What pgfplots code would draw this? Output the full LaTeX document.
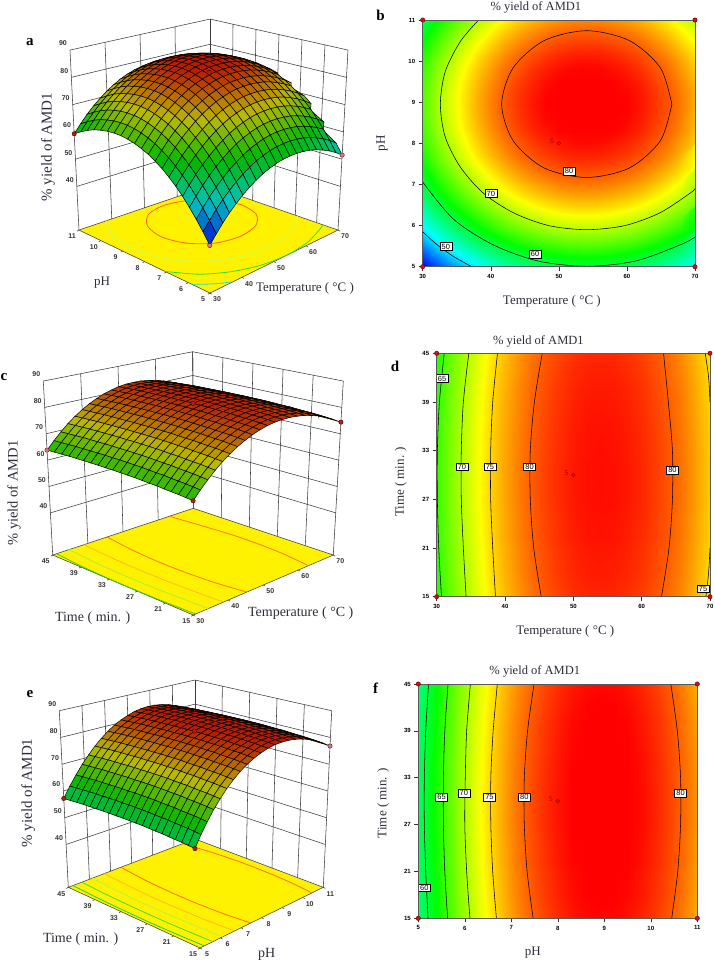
\documentclass[border=0pt]{standalone}
\usepackage{fontspec}
\setmainfont{Liberation Serif}
\newfontfamily\tickfont{Liberation Sans}
\usepackage{pgfplots}
\usepackage{pgfplotstable}
\pgfplotsset{compat=1.18}

% one px of the reference = 1pt; 21x21 grids, rows from the far edge to the near one,
% and inside a row from the high end of the x factor to the low end
\pgfplotstableread[row sep=\\]{z\\
70.0\\72.0\\73.7\\75.1\\76.3\\77.2\\77.8\\78.2\\78.3\\78.2\\77.8\\77.1\\76.2\\75.0\\73.5\\71.8\\69.8\\67.6\\65.1\\62.3\\59.3\\
71.8\\73.8\\75.5\\76.9\\78.1\\79.0\\79.6\\80.0\\80.1\\80.0\\79.6\\78.9\\78.0\\76.8\\75.3\\73.6\\71.6\\69.4\\66.9\\64.1\\61.1\\
73.4\\75.4\\77.1\\78.5\\79.7\\80.6\\81.2\\81.6\\81.7\\81.6\\81.2\\80.5\\79.6\\78.4\\76.9\\75.2\\73.2\\71.0\\68.5\\65.7\\62.7\\
74.7\\76.7\\78.4\\79.8\\81.0\\81.9\\82.5\\82.9\\83.0\\82.9\\82.5\\81.8\\80.9\\79.7\\78.2\\76.5\\74.5\\72.3\\69.8\\67.0\\64.0\\
75.6\\77.6\\79.3\\80.7\\81.9\\82.8\\83.4\\83.8\\83.9\\83.8\\83.4\\82.7\\81.8\\80.6\\79.1\\77.4\\75.4\\73.2\\70.7\\67.9\\64.9\\
76.3\\78.3\\80.0\\81.4\\82.6\\83.5\\84.1\\84.5\\84.6\\84.5\\84.1\\83.4\\82.5\\81.3\\79.8\\78.1\\76.1\\73.9\\71.4\\68.6\\65.6\\
76.7\\78.7\\80.4\\81.8\\83.0\\83.9\\84.5\\84.9\\85.0\\84.9\\84.5\\83.8\\82.9\\81.7\\80.2\\78.5\\76.5\\74.3\\71.8\\69.0\\66.0\\
76.8\\78.8\\80.5\\81.9\\83.1\\84.0\\84.6\\85.0\\85.1\\85.0\\84.6\\83.9\\83.0\\81.8\\80.3\\78.6\\76.6\\74.4\\71.9\\69.1\\66.1\\
76.6\\78.6\\80.3\\81.7\\82.9\\83.8\\84.4\\84.8\\84.9\\84.8\\84.4\\83.7\\82.8\\81.6\\80.1\\78.4\\76.4\\74.2\\71.7\\68.9\\65.9\\
76.1\\78.1\\79.8\\81.2\\82.4\\83.3\\83.9\\84.3\\84.4\\84.3\\83.9\\83.2\\82.3\\81.1\\79.6\\77.9\\75.9\\73.7\\71.2\\68.4\\65.4\\
75.3\\77.3\\79.0\\80.4\\81.6\\82.5\\83.1\\83.5\\83.6\\83.5\\83.1\\82.4\\81.5\\80.3\\78.8\\77.1\\75.1\\72.9\\70.4\\67.6\\64.6\\
74.3\\76.3\\78.0\\79.4\\80.6\\81.5\\82.1\\82.5\\82.6\\82.5\\82.1\\81.4\\80.5\\79.3\\77.8\\76.1\\74.1\\71.9\\69.4\\66.6\\63.6\\
72.9\\74.9\\76.6\\78.0\\79.2\\80.1\\80.7\\81.1\\81.2\\81.1\\80.7\\80.0\\79.1\\77.9\\76.4\\74.7\\72.7\\70.5\\68.0\\65.2\\62.2\\
71.3\\73.3\\75.0\\76.4\\77.6\\78.5\\79.1\\79.5\\79.6\\79.5\\79.1\\78.4\\77.5\\76.3\\74.8\\73.1\\71.1\\68.9\\66.4\\63.6\\60.6\\
69.3\\71.3\\73.0\\74.4\\75.6\\76.5\\77.1\\77.5\\77.6\\77.5\\77.1\\76.4\\75.5\\74.3\\72.8\\71.1\\69.1\\66.9\\64.4\\61.6\\58.6\\
67.1\\69.1\\70.8\\72.2\\73.4\\74.3\\74.9\\75.3\\75.4\\75.3\\74.9\\74.2\\73.3\\72.1\\70.6\\68.9\\66.9\\64.7\\62.2\\59.4\\56.4\\
64.6\\66.6\\68.3\\69.7\\70.9\\71.8\\72.4\\72.8\\72.9\\72.8\\72.4\\71.7\\70.8\\69.6\\68.1\\66.4\\64.4\\62.2\\59.7\\56.9\\53.9\\
61.7\\63.7\\65.4\\66.8\\68.0\\68.9\\69.5\\69.9\\70.0\\69.9\\69.5\\68.8\\67.9\\66.7\\65.2\\63.5\\61.5\\59.3\\56.8\\54.0\\51.0\\
58.6\\60.6\\62.3\\63.7\\64.9\\65.8\\66.4\\66.8\\66.9\\66.8\\66.4\\65.7\\64.8\\63.6\\62.1\\60.4\\58.4\\56.2\\53.7\\50.9\\47.9\\
55.2\\57.2\\58.9\\60.3\\61.5\\62.4\\63.0\\63.4\\63.5\\63.4\\63.0\\62.3\\61.4\\60.2\\58.7\\57.0\\55.0\\52.8\\50.3\\47.5\\44.5\\
51.5\\53.5\\55.2\\56.6\\57.8\\58.7\\59.3\\59.7\\59.8\\59.7\\59.3\\58.6\\57.7\\56.5\\55.0\\53.3\\51.3\\49.1\\46.6\\43.8\\40.8\\
}\tabTP

\pgfplotstableread[row sep=\\]{z\\
74.3\\76.2\\77.9\\79.3\\80.4\\81.3\\81.9\\82.3\\82.4\\82.3\\81.9\\81.2\\80.3\\79.1\\77.7\\76.0\\74.1\\71.9\\69.4\\66.7\\63.8\\
74.5\\76.4\\78.1\\79.5\\80.6\\81.5\\82.1\\82.5\\82.6\\82.5\\82.1\\81.4\\80.5\\79.3\\77.9\\76.2\\74.3\\72.1\\69.6\\66.9\\64.0\\
74.7\\76.6\\78.3\\79.7\\80.8\\81.7\\82.3\\82.7\\82.8\\82.7\\82.3\\81.6\\80.7\\79.5\\78.1\\76.4\\74.5\\72.3\\69.8\\67.1\\64.2\\
74.9\\76.8\\78.5\\79.9\\81.0\\81.9\\82.5\\82.9\\83.0\\82.9\\82.5\\81.8\\80.9\\79.7\\78.3\\76.6\\74.7\\72.5\\70.0\\67.3\\64.4\\
75.0\\76.9\\78.6\\80.0\\81.1\\82.0\\82.6\\83.0\\83.1\\83.0\\82.6\\81.9\\81.0\\79.8\\78.4\\76.7\\74.8\\72.6\\70.1\\67.4\\64.5\\
75.1\\77.0\\78.7\\80.1\\81.2\\82.1\\82.7\\83.1\\83.2\\83.1\\82.7\\82.0\\81.1\\79.9\\78.5\\76.8\\74.9\\72.7\\70.2\\67.5\\64.6\\
75.2\\77.1\\78.8\\80.2\\81.3\\82.2\\82.8\\83.2\\83.3\\83.2\\82.8\\82.1\\81.2\\80.0\\78.6\\76.9\\75.0\\72.8\\70.3\\67.6\\64.7\\
75.3\\77.2\\78.9\\80.3\\81.4\\82.3\\82.9\\83.3\\83.4\\83.3\\82.9\\82.2\\81.3\\80.1\\78.7\\77.0\\75.1\\72.9\\70.4\\67.7\\64.8\\
75.3\\77.2\\78.9\\80.3\\81.4\\82.3\\82.9\\83.3\\83.4\\83.3\\82.9\\82.2\\81.3\\80.1\\78.7\\77.0\\75.1\\72.9\\70.4\\67.7\\64.8\\
75.4\\77.3\\79.0\\80.4\\81.5\\82.4\\83.0\\83.4\\83.5\\83.4\\83.0\\82.3\\81.4\\80.2\\78.8\\77.1\\75.2\\73.0\\70.5\\67.8\\64.9\\
75.4\\77.3\\79.0\\80.4\\81.5\\82.4\\83.0\\83.4\\83.5\\83.4\\83.0\\82.3\\81.4\\80.2\\78.8\\77.1\\75.2\\73.0\\70.5\\67.8\\64.9\\
75.4\\77.3\\79.0\\80.4\\81.5\\82.4\\83.0\\83.4\\83.5\\83.4\\83.0\\82.3\\81.4\\80.2\\78.8\\77.1\\75.2\\73.0\\70.5\\67.8\\64.9\\
75.4\\77.3\\79.0\\80.4\\81.5\\82.4\\83.0\\83.4\\83.5\\83.4\\83.0\\82.3\\81.4\\80.2\\78.8\\77.1\\75.2\\73.0\\70.5\\67.8\\64.9\\
75.3\\77.2\\78.9\\80.3\\81.4\\82.3\\82.9\\83.3\\83.4\\83.3\\82.9\\82.2\\81.3\\80.1\\78.7\\77.0\\75.1\\72.9\\70.4\\67.7\\64.8\\
75.2\\77.1\\78.8\\80.2\\81.3\\82.2\\82.8\\83.2\\83.3\\83.2\\82.8\\82.1\\81.2\\80.0\\78.6\\76.9\\75.0\\72.8\\70.3\\67.6\\64.7\\
75.2\\77.1\\78.8\\80.2\\81.3\\82.2\\82.8\\83.2\\83.3\\83.2\\82.8\\82.1\\81.2\\80.0\\78.6\\76.9\\75.0\\72.8\\70.3\\67.6\\64.7\\
75.0\\76.9\\78.6\\80.0\\81.1\\82.0\\82.6\\83.0\\83.1\\83.0\\82.6\\81.9\\81.0\\79.8\\78.4\\76.7\\74.8\\72.6\\70.1\\67.4\\64.5\\
74.9\\76.8\\78.5\\79.9\\81.0\\81.9\\82.5\\82.9\\83.0\\82.9\\82.5\\81.8\\80.9\\79.7\\78.3\\76.6\\74.7\\72.5\\70.0\\67.3\\64.4\\
74.8\\76.7\\78.4\\79.8\\80.9\\81.8\\82.4\\82.8\\82.9\\82.8\\82.4\\81.7\\80.8\\79.6\\78.2\\76.5\\74.6\\72.4\\69.9\\67.2\\64.3\\
74.6\\76.5\\78.2\\79.6\\80.7\\81.6\\82.2\\82.6\\82.7\\82.6\\82.2\\81.5\\80.6\\79.4\\78.0\\76.3\\74.4\\72.2\\69.7\\67.0\\64.1\\
74.4\\76.3\\78.0\\79.4\\80.5\\81.4\\82.0\\82.4\\82.5\\82.4\\82.0\\81.3\\80.4\\79.2\\77.8\\76.1\\74.2\\72.0\\69.5\\66.8\\63.9\\
}\tabTT

\pgfplotstableread[row sep=\\]{z\\
76.7\\78.6\\80.2\\81.5\\82.5\\83.2\\83.6\\83.7\\83.5\\83.0\\82.1\\81.0\\79.6\\77.9\\75.8\\73.5\\70.8\\67.9\\64.6\\61.1\\57.2\\
76.9\\78.8\\80.4\\81.7\\82.7\\83.4\\83.8\\83.9\\83.7\\83.2\\82.3\\81.2\\79.8\\78.1\\76.0\\73.7\\71.0\\68.1\\64.8\\61.3\\57.4\\
77.1\\79.0\\80.6\\81.9\\82.9\\83.6\\84.0\\84.1\\83.9\\83.4\\82.5\\81.4\\80.0\\78.3\\76.2\\73.9\\71.2\\68.3\\65.0\\61.5\\57.6\\
77.3\\79.2\\80.8\\82.1\\83.1\\83.8\\84.2\\84.3\\84.1\\83.6\\82.7\\81.6\\80.2\\78.5\\76.4\\74.1\\71.4\\68.5\\65.2\\61.7\\57.8\\
77.4\\79.3\\80.9\\82.2\\83.2\\83.9\\84.3\\84.4\\84.2\\83.7\\82.8\\81.7\\80.3\\78.6\\76.5\\74.2\\71.5\\68.6\\65.3\\61.8\\57.9\\
77.5\\79.4\\81.0\\82.3\\83.3\\84.0\\84.4\\84.5\\84.3\\83.8\\82.9\\81.8\\80.4\\78.7\\76.6\\74.3\\71.6\\68.7\\65.4\\61.9\\58.0\\
77.6\\79.5\\81.1\\82.4\\83.4\\84.1\\84.5\\84.6\\84.4\\83.9\\83.0\\81.9\\80.5\\78.8\\76.7\\74.4\\71.7\\68.8\\65.5\\62.0\\58.1\\
77.7\\79.6\\81.2\\82.5\\83.5\\84.2\\84.6\\84.7\\84.5\\84.0\\83.1\\82.0\\80.6\\78.9\\76.8\\74.5\\71.8\\68.9\\65.6\\62.1\\58.2\\
77.7\\79.6\\81.2\\82.5\\83.5\\84.2\\84.6\\84.7\\84.5\\84.0\\83.1\\82.0\\80.6\\78.9\\76.8\\74.5\\71.8\\68.9\\65.6\\62.1\\58.2\\
77.8\\79.7\\81.3\\82.6\\83.6\\84.3\\84.7\\84.8\\84.6\\84.1\\83.2\\82.1\\80.7\\79.0\\76.9\\74.6\\71.9\\69.0\\65.7\\62.2\\58.3\\
77.8\\79.7\\81.3\\82.6\\83.6\\84.3\\84.7\\84.8\\84.6\\84.1\\83.2\\82.1\\80.7\\79.0\\76.9\\74.6\\71.9\\69.0\\65.7\\62.2\\58.3\\
77.8\\79.7\\81.3\\82.6\\83.6\\84.3\\84.7\\84.8\\84.6\\84.1\\83.2\\82.1\\80.7\\79.0\\76.9\\74.6\\71.9\\69.0\\65.7\\62.2\\58.3\\
77.8\\79.7\\81.3\\82.6\\83.6\\84.3\\84.7\\84.8\\84.6\\84.1\\83.2\\82.1\\80.7\\79.0\\76.9\\74.6\\71.9\\69.0\\65.7\\62.2\\58.3\\
77.7\\79.6\\81.2\\82.5\\83.5\\84.2\\84.6\\84.7\\84.5\\84.0\\83.1\\82.0\\80.6\\78.9\\76.8\\74.5\\71.8\\68.9\\65.6\\62.1\\58.2\\
77.6\\79.5\\81.1\\82.4\\83.4\\84.1\\84.5\\84.6\\84.4\\83.9\\83.0\\81.9\\80.5\\78.8\\76.7\\74.4\\71.7\\68.8\\65.5\\62.0\\58.1\\
77.6\\79.5\\81.1\\82.4\\83.4\\84.1\\84.5\\84.6\\84.4\\83.9\\83.0\\81.9\\80.5\\78.8\\76.7\\74.4\\71.7\\68.8\\65.5\\62.0\\58.1\\
77.4\\79.3\\80.9\\82.2\\83.2\\83.9\\84.3\\84.4\\84.2\\83.7\\82.8\\81.7\\80.3\\78.6\\76.5\\74.2\\71.5\\68.6\\65.3\\61.8\\57.9\\
77.3\\79.2\\80.8\\82.1\\83.1\\83.8\\84.2\\84.3\\84.1\\83.6\\82.7\\81.6\\80.2\\78.5\\76.4\\74.1\\71.4\\68.5\\65.2\\61.7\\57.8\\
77.2\\79.1\\80.7\\82.0\\83.0\\83.7\\84.1\\84.2\\84.0\\83.5\\82.6\\81.5\\80.1\\78.4\\76.3\\74.0\\71.3\\68.4\\65.1\\61.6\\57.7\\
77.0\\78.9\\80.5\\81.8\\82.8\\83.5\\83.9\\84.0\\83.8\\83.3\\82.4\\81.3\\79.9\\78.2\\76.1\\73.8\\71.1\\68.2\\64.9\\61.4\\57.5\\
76.8\\78.7\\80.3\\81.6\\82.6\\83.3\\83.7\\83.8\\83.6\\83.1\\82.2\\81.1\\79.7\\78.0\\75.9\\73.6\\70.9\\68.0\\64.7\\61.2\\57.3\\
}\tabPT

% contours
\pgfplotstableread[row sep=\\]{x y\\ 66.6 8.95\\ 64.9 9.84\\ 60.35 10.50\\ 54.1 10.74\\ 47.85 10.50\\ 43.3 9.84\\ 41.6 8.95\\ 43.3 8.06\\ 47.85 7.40\\ 54.1 7.17\\ 60.35 7.40\\ 64.9 8.06\\ 66.6 8.95\\}\bEighty
\pgfplotstableread[row sep=\\]{x y\\ 38.2 11\\ 35.5 10.47\\ 33.3 9.74\\ 32.6 8.95\\ 33.3 8.16\\ 35.5 7.43\\ 38.9 6.79\\ 43.35 6.31\\ 48.5 6.0\\ 54.1 5.9\\ 59.7 6.0\\ 64.85 6.31\\ 69.3 6.79\\ 70 6.9\\}\bSeventy
\pgfplotstableread[row sep=\\]{x y\\ 30 7.06\\ 34.5 6.16\\ 40.25 5.54\\ 46.9 5.14\\ 54.1 5.01\\ 61.3 5.14\\ 67.95 5.54\\ 70 5.72\\}\bSixty
\pgfplotstableread[row sep=\\]{x y\\ 30 5.85\\ 32 5.55\\ 34.5 5.25\\ 37.2 5.0\\}\bFifty

\pgfplotstableread[row sep=\\]{x y\\ 45.3 15\\ 44.2 21\\ 43.7 27\\ 43.7 33\\ 44.3 39\\ 45.45 45\\}\dEightyL
\pgfplotstableread[row sep=\\]{x y\\ 62.9 15\\ 64.0 21\\ 64.5 27\\ 64.5 33\\ 63.9 39\\ 63.2 45\\}\dEightyR
\pgfplotstableread[row sep=\\]{x y\\ 38.6 15\\ 38.2 21\\ 37.9 27\\ 37.9 33\\ 38.2 39\\ 38.9 45\\}\dSevFiveL
\pgfplotstableread[row sep=\\]{x y\\ 69.4 15\\ 69.8 18\\ 70 21\\}\dSevFiveA
\pgfplotstableread[row sep=\\]{x y\\ 70 39\\ 69.8 42\\ 69.3 45\\}\dSevFiveB
\pgfplotstableread[row sep=\\]{x y\\ 34.3 15\\ 33.9 21\\ 33.6 27\\ 33.6 33\\ 33.9 39\\ 34.7 45\\}\dSeventy
\pgfplotstableread[row sep=\\]{x y\\ 30.7 15\\ 30.3 21\\ 30.1 27\\ 30.1 33\\ 30.4 39\\ 31.1 45\\}\dSixFive

\pgfplotstableread[row sep=\\]{x y\\ 7.47 15\\ 7.34 21\\ 7.28 27\\ 7.28 33\\ 7.35 39\\ 7.49 45\\}\fEightyL
\pgfplotstableread[row sep=\\]{x y\\ 10.45 15\\ 10.58 21\\ 10.64 27\\ 10.64 33\\ 10.57 39\\ 10.43 45\\}\fEightyR
\pgfplotstableread[row sep=\\]{x y\\ 6.68 15\\ 6.60 21\\ 6.56 27\\ 6.56 33\\ 6.61 39\\ 6.70 45\\}\fSevFive
\pgfplotstableread[row sep=\\]{x y\\ 6.11 15\\ 6.04 21\\ 6.0 27\\ 6.01 33\\ 6.04 39\\ 6.12 45\\}\fSeventy
\pgfplotstableread[row sep=\\]{x y\\ 5.63 15\\ 5.57 21\\ 5.54 27\\ 5.54 33\\ 5.57 39\\ 5.64 45\\}\fSixFive
\pgfplotstableread[row sep=\\]{x y\\ 5.21 15\\ 5.16 21\\ 5.13 27\\ 5.13 33\\ 5.16 39\\ 5.22 45\\}\fSixty

% 3-D boxes: screen place from the 8 box corners (A front, B right, C left, D back, E-H above them)
\pgfmathdeclarefunction{sx}{3}{\pgfmathparse{(1-#3)*((1-#1)*(1-#2)*\XA+#1*(1-#2)*\XB+(1-#1)*#2*\XC+#1*#2*\XD)+#3*((1-#1)*(1-#2)*\XE+#1*(1-#2)*\XF+(1-#1)*#2*\XG+#1*#2*\XH)}}
\pgfmathdeclarefunction{sy}{3}{\pgfmathparse{962-(1-#3)*((1-#1)*(1-#2)*\YA+#1*(1-#2)*\YB+(1-#1)*#2*\YC+#1*#2*\YD)-#3*((1-#1)*(1-#2)*\YE+#1*(1-#2)*\YF+(1-#1)*#2*\YG+#1*#2*\YH)}}
\newcommand\Floor[8]{\def\XA{#1}\def\YA{#2}\def\XB{#3}\def\YB{#4}\def\XC{#5}\def\YC{#6}\def\XD{#7}\def\YD{#8}}
\newcommand\Top[8]{\def\XE{#1}\def\YE{#2}\def\XF{#3}\def\YF{#4}\def\XG{#5}\def\YG{#6}\def\XH{#7}\def\YH{#8}}
\def\UU{(\thisrow{x}-\XO)/\XS}
\def\VV{(\thisrow{y}-\YO)/\YS}
\def\HH{(\thisrow{z}-24)/66}

\definecolor{wallc}{RGB}{60,60,60}
\definecolor{txtc}{RGB}{45,45,60}
\definecolor{ptred}{RGB}{200,20,20}
\definecolor{ptpink}{RGB}{225,120,120}
\tikzset{wall/.style={draw=wallc,line width=.55pt},
  tk/.style={font=\tickfont\bfseries\fontsize{7}{8}\selectfont,text=black!80,inner sep=0pt},
  lab/.style={font=\fontsize{#1}{#1}\selectfont,text=txtc,inner sep=0pt},
  let/.style={font=\bfseries\fontsize{15}{15}\selectfont,inner sep=0pt},
  clab/.style={draw=black,fill=white,inner xsep=1.8pt,inner ysep=1.2pt,line width=.5pt,font=\tickfont\fontsize{7.5}{8}\selectfont}}

\newcommand\Seg[6]{\draw[wall] (axis cs:{sx(#1,#2,#3)},{sy(#1,#2,#3)},0) -- (axis cs:{sx(#4,#5,#6)},{sy(#4,#5,#6)},0);}
\newcommand\Walls[2]{%
  \pgfplotsinvokeforeach{#1}{\Seg{##1}{1}{0}{##1}{1}{1}}%
  \pgfplotsinvokeforeach{#2}{\Seg{1}{##1}{0}{1}{##1}{1}}%
  \pgfplotsinvokeforeach{40,50,60,70,80,90}{%
    \Seg{0}{1}{(##1-24)/66}{1}{1}{(##1-24)/66}%
    \Seg{1}{1}{(##1-24)/66}{1}{0}{(##1-24)/66}%
    \node[tk,xshift=-7pt,yshift=6.5pt] at (axis cs:{sx(0,1,(##1-24)/66)},{sy(0,1,(##1-24)/66)},0) {##1};}%
  \draw[wall,fill=yellow] (axis cs:{sx(0,0,0)},{sy(0,0,0)},0) -- (axis cs:{sx(1,0,0)},{sy(1,0,0)},0) -- (axis cs:{sx(1,1,0)},{sy(1,1,0)},0) -- (axis cs:{sx(0,1,0)},{sy(0,1,0)},0) -- cycle;}
\newcommand\Ut[2]{\draw[wall] (axis cs:{sx(#1,0,0)},{sy(#1,0,0)},0) -- ++(2pt,-1.2pt); \node[tk,xshift=7pt,yshift=-6.5pt] at (axis cs:{sx(#1,0,0)},{sy(#1,0,0)},0) {#2};}
\newcommand\Vt[2]{\draw[wall] (axis cs:{sx(0,#1,0)},{sy(0,#1,0)},0) -- ++(-2pt,-1.2pt); \node[tk,xshift=-7pt,yshift=-6.5pt] at (axis cs:{sx(0,#1,0)},{sy(0,#1,0)},0) {#2};}
\newcommand\FloorLine[2]{\addplot3[#1,line width=.8pt,smooth,no marks] table[x expr={sx(\UU,\VV,0)},y expr={sy(\UU,\VV,0)},z=x] {#2};}
\newcommand\Surface[1]{\addplot3[surf,shader=faceted,colormap name=dxdark,faceted color=black,line width=.5pt,z buffer=none,mesh/rows=21,point meta=\thisrow{z}]
  table[x=z,y=z,z=z,x expr={sx(1-mod(\coordindex,21)/20,1-floor(\coordindex/21)/20,\HH)},y expr={sy(1-mod(\coordindex,21)/20,1-floor(\coordindex/21)/20,\HH)}] {#1};}
\newcommand\Pts[2]{\addplot3[only marks,mark=*,mark size=2.2pt,mark options={fill=#1,draw=black!70!#1,line width=.4pt}]
  table[row sep=\\,x expr={sx(\UU,\VV,\HH)},y expr={sy(\UU,\VV,\HH)},z=z] {#2};}

\pgfplotsset{
  colormap={dxdark}{rgb255(0)=(0,0,215) rgb255(1)=(0,195,195) rgb255(2)=(0,185,0) rgb255(3)=(185,185,0) rgb255(4)=(185,25,0)},
  colormap={dx}{rgb255(0)=(0,0,255) rgb255(1)=(0,255,255) rgb255(2)=(0,255,0) rgb255(3)=(255,255,0) rgb255(4)=(255,0,0)},
  canvas/.style={at={(0pt,0pt)},anchor=south west,scale only axis,width=715pt,height=962pt,hide axis,clip=false,
    xmin=0,xmax=715,ymin=0,ymax=962,zmin=-1,zmax=1,view={0}{90},point meta min=41,point meta max=84},
  panel/.style={anchor=south west,scale only axis,clip=false,view={0}{90},zmin=-1,zmax=1,ztick=\empty,
    point meta min=41,point meta max=84,tick align=outside,xtick pos=lower,ytick pos=lower,
    axis line style={draw=black!65,line width=.7pt},major tick length=4pt,
    tick style={draw=black!80,line width=.5pt},
    tick label style={font=\tickfont\bfseries\fontsize{6}{6}\selectfont},
    /pgf/number format/assume math mode=true,
    title style={font=\fontsize{12.5}{13}\selectfont,text=txtc},
    label style={font=\fontsize{13}{14}\selectfont,text=txtc}},
  contour/.style={black,line width=.55pt,smooth,no marks}}

\newcommand\Map[3]{\addplot3[surf,shader=interp,mesh/rows=21,point meta=\thisrow{z}]
  table[x=z,y=z,z=z,x expr={#2},y expr={#3}] {#1};}
\newcommand\Iso[1]{\addplot3[contour] table[x=x,y=y,z=x] {#1};}
\newcommand\Design[2]{\addplot3[only marks,mark=*,mark size=2.2pt,mark options={fill=ptred,draw=black!60!red,line width=.4pt}] coordinates {#1};
  \addplot3[only marks,mark=o,mark size=1.8pt,mark options={draw=black!30!red,line width=.7pt}] coordinates {#2};}

\begin{document}
\begin{tikzpicture}[x=1pt,y=1pt]
\useasboundingbox (0,0) rectangle (715,962);

% ---- a
\Floor{210}{293}{338}{230}{79}{230}{210}{185.5}
\Top{209}{106}{348}{50}{70}{50}{210}{19}
\def\XO{30}\def\XS{40}\def\YO{5}\def\YS{6}
\begin{axis}[canvas]
\Walls{0,.25,.5,.75,1}{0,.1667,.3333,.5,.6667,.8333,1}
\FloorLine{color={rgb,255:red,255;green,100;blue,20}}{\bEighty}
\FloorLine{color={rgb,255:red,205;green,255;blue,90}}{\bSeventy}
\FloorLine{color={rgb,255:red,40;green,225;blue,50}}{\bSixty}
\FloorLine{color={rgb,255:red,30;green,225;blue,210}}{\bFifty}
\Surface{\tabTP}
\Pts{ptred}{x y z\\ 30 11 59.3\\ 50 8 84.0\\}
\Pts{ptpink}{x y z\\ 30 5 40.8\\ 70 5 51.5\\}
\Ut{0}{30}\Ut{.25}{40}\Ut{.5}{50}\Ut{.75}{60}\Ut{1}{70}
\Vt{0}{5}\Vt{.1667}{6}\Vt{.3333}{7}\Vt{.5}{8}\Vt{.6667}{9}\Vt{.8333}{10}\Vt{1}{11}
\node[lab=13] at (axis cs:102,679,0) {pH};
\node[lab=13] at (axis cs:305,674,0) {Temperature ( °C )};
\node[lab=15,rotate=90] at (axis cs:48,815,0) {\% yield of AMD1};
\node[let] at (axis cs:30,920,0) {a};
\end{axis}

% ---- b
\begin{axis}[panel,at={(422.7pt,695.3pt)},width=272.3pt,height=246.7pt,
  xmin=30,xmax=70,ymin=5,ymax=11,xtick={30,40,50,60,70},ytick={5,6,7,8,9,10,11},
  title={\% yield of AMD1},title style={yshift=-3pt,xshift=-23pt},
  xlabel={Temperature ( °C )},xlabel style={xshift=-7pt,yshift=-10pt},
  ylabel={pH},ylabel style={yshift=14pt}]
\Map{\tabTP}{70-2*mod(\coordindex,21)}{11-.3*floor(\coordindex/21)}
\Iso{\bEighty}\Iso{\bSeventy}\Iso{\bSixty}\Iso{\bFifty}
\Design{(30,5,0)(70,5,0)(30,11,0)(70,11,0)}{(50,8,0)}
\node[clab] at (axis cs:51.5,7.33,0) {80};
\node[clab] at (axis cs:40,6.78,0) {70};
\node[clab] at (axis cs:46.5,5.3,0) {60};
\node[clab] at (axis cs:33.4,5.49,0) {50};
\node[font=\tickfont\fontsize{7}{7}\selectfont,text=black!30!red] at (axis cs:49,8.05,0) {5};
\node[let] at (axis cs:23.8,11.12,0) {b};
\end{axis}

% ---- c
\Floor{193.3}{615}{333.3}{555}{52.7}{555}{193.3}{508.3}
\Top{193}{426}{343.3}{381}{43.3}{381}{192.7}{351.7}
\def\XO{30}\def\XS{40}\def\YO{15}\def\YS{30}
\begin{axis}[canvas]
\Walls{0,.25,.5,.75,1}{0,.2,.4,.6,.8,1}
\FloorLine{color={rgb,255:red,255;green,120;blue,20}}{\dEightyL}
\FloorLine{color={rgb,255:red,255;green,120;blue,20}}{\dEightyR}
\FloorLine{color={rgb,255:red,255;green,185;blue,40}}{\dSevFiveL}
\FloorLine{color={rgb,255:red,175;green,240;blue,40}}{\dSeventy}
\FloorLine{color={rgb,255:red,50;green,210;blue,40}}{\dSixFive}
\Surface{\tabTT}
\Pts{ptred}{x y z\\ 30 15 63.9\\ 70 15 74.4\\ 50 30 83.0\\}
\Pts{ptpink}{x y z\\ 30 45 63.8\\}
\Ut{0}{30}\Ut{.25}{40}\Ut{.5}{50}\Ut{.75}{60}\Ut{1}{70}
\Vt{0}{15}\Vt{.2}{21}\Vt{.4}{27}\Vt{.6}{33}\Vt{.8}{39}\Vt{1}{45}
\node[lab=14] at (axis cs:92.7,344.3,0) {Time ( min. )};
\node[lab=14] at (axis cs:300.7,349.3,0) {Temperature ( °C )};
\node[lab=14.5,rotate=90] at (axis cs:14,469,0) {\% yield of AMD1};
\node[let] at (axis cs:4,585,0) {c};
\end{axis}

% ---- d
\begin{axis}[panel,at={(436.7pt,365.3pt)},width=273.3pt,height=243.4pt,
  xmin=30,xmax=70,ymin=15,ymax=45,xtick={30,40,50,60,70},ytick={15,21,27,33,39,45},
  title={\% yield of AMD1},title style={yshift=-3pt,xshift=-35pt},
  xlabel={Temperature ( °C )},xlabel style={xshift=-8pt,yshift=-10pt},
  ylabel={Time ( min. )},ylabel style={yshift=9pt,xshift=-7pt}]
\Map{\tabTT}{70-2*mod(\coordindex,21)}{45-1.5*floor(\coordindex/21)}
\Iso{\dEightyL}\Iso{\dEightyR}\Iso{\dSevFiveL}\Iso{\dSevFiveA}\Iso{\dSevFiveB}\Iso{\dSeventy}\Iso{\dSixFive}
\Design{(30,15,0)(70,15,0)(30,45,0)(70,45,0)}{(50,30,0)}
\node[clab] at (axis cs:30.8,41.9,0) {65};
\node[clab] at (axis cs:33.7,31,0) {70};
\node[clab] at (axis cs:37.8,31,0) {75};
\node[clab] at (axis cs:43.6,31,0) {80};
\node[clab] at (axis cs:64.5,30.6,0) {80};
\node[clab] at (axis cs:69,16,0) {75};
\node[font=\tickfont\fontsize{7}{7}\selectfont,text=black!30!red] at (axis cs:49,30.2,0) {5};
\node[let] at (axis cs:23.9,43.4,0) {d};
\end{axis}

% ---- e
\Floor{200}{948}{323.3}{887.3}{68.3}{887.3}{195}{839}
\Top{190}{751}{331.7}{710.7}{59.3}{710.7}{195}{680}
\def\XO{5}\def\XS{6}\def\YO{15}\def\YS{30}
\begin{axis}[canvas]
\Walls{0,.1667,.3333,.5,.6667,.8333,1}{0,.2,.4,.6,.8,1}
\FloorLine{color={rgb,255:red,255;green,110;blue,20}}{\fEightyL}
\FloorLine{color={rgb,255:red,255;green,110;blue,20}}{\fEightyR}
\FloorLine{color={rgb,255:red,255;green,185;blue,40}}{\fSevFive}
\FloorLine{color={rgb,255:red,190;green,240;blue,60}}{\fSeventy}
\FloorLine{color={rgb,255:red,70;green,220;blue,40}}{\fSixFive}
\FloorLine{color={rgb,255:red,20;green,210;blue,70}}{\fSixty}
\Surface{\tabPT}
\Pts{ptred}{x y z\\ 5 15 57.3\\ 5 45 57.2\\ 8 30 83.3\\}
\Pts{ptpink}{x y z\\ 11 15 76.8\\}
\Ut{0}{5}\Ut{.1667}{6}\Ut{.3333}{7}\Ut{.5}{8}\Ut{.6667}{9}\Ut{.8333}{10}\Ut{1}{11}
\Vt{0}{15}\Vt{.2}{21}\Vt{.4}{27}\Vt{.6}{33}\Vt{.8}{39}\Vt{1}{45}
\node[lab=14] at (axis cs:80.7,22.7,0) {Time ( min. )};
\node[lab=14] at (axis cs:266.7,8,0) {pH};
\node[lab=15,rotate=90] at (axis cs:28.3,169,0) {\% yield of AMD1};
\node[let] at (axis cs:30,268,0) {e};
\end{axis}

% ---- f
\begin{axis}[panel,at={(418.3pt,43.7pt)},width=279pt,height=234.3pt,
  xmin=5,xmax=11,ymin=15,ymax=45,xtick={5,6,7,8,9,10,11},ytick={15,21,27,33,39,45},
  title={\% yield of AMD1},title style={yshift=-3pt,xshift=-23pt},
  xlabel={pH},xlabel style={xshift=-25pt,yshift=-10pt},
  ylabel={Time ( min. )},ylabel style={yshift=8pt,xshift=-2pt}]
\Map{\tabPT}{11-.3*mod(\coordindex,21)}{45-1.5*floor(\coordindex/21)}
\Iso{\fEightyL}\Iso{\fEightyR}\Iso{\fSevFive}\Iso{\fSeventy}\Iso{\fSixFive}\Iso{\fSixty}
\Design{(5,15,0)(11,15,0)(5,45,0)(11,45,0)}{(8,30,0)}
\node[clab] at (axis cs:5.13,18.9,0) {60};
\node[clab] at (axis cs:5.5,30.5,0) {65};
\node[clab] at (axis cs:5.98,31,0) {70};
\node[clab] at (axis cs:6.53,30.5,0) {75};
\node[clab] at (axis cs:7.28,30.5,0) {80};
\node[clab] at (axis cs:10.64,31,0) {80};
\node[font=\tickfont\fontsize{7}{7}\selectfont,text=black!30!red] at (axis cs:7.85,30.2,0) {5};
\node[let] at (axis cs:4.08,44.45,0) {f};
\end{axis}
\end{tikzpicture}
\end{document}
